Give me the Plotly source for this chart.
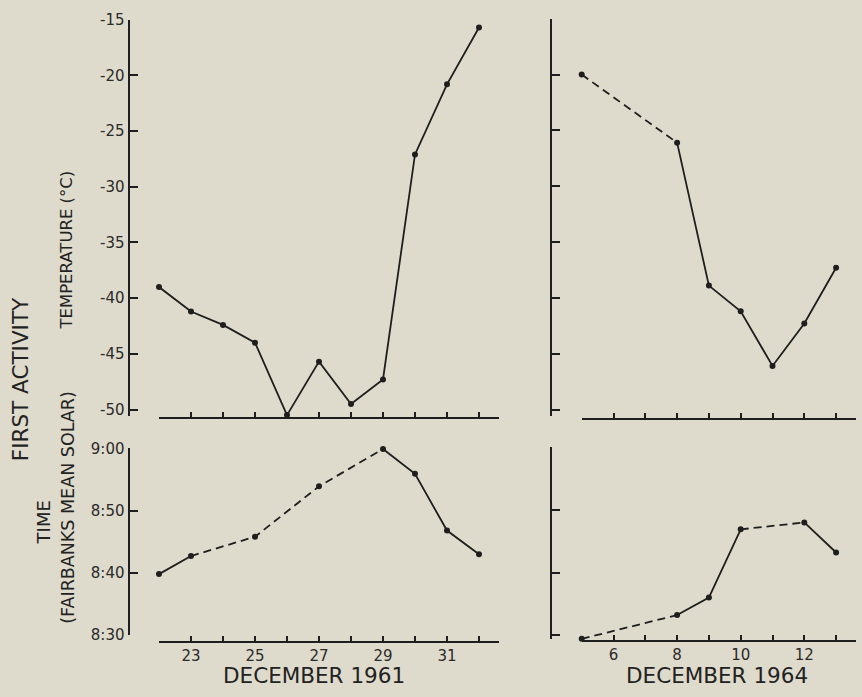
import plotly.graph_objects as go

# ---------------- data ----------------
# December 1961
days_1961_temp = [22, 23, 24, 25, 26, 27, 28, 29, 30, 31, 32]
temp_1961 = [-39.0, -41.2, -42.4, -44.0, -50.5, -45.7, -49.5, -47.3, -27.1, -20.8, -15.7]
temp_1961_style = ["solid"] * 10  # style of segment i -> i+1

days_1961_time = [22, 23, 25, 27, 29, 30, 31, 32]
time_1961 = [39.8, 42.7, 45.8, 53.9, 59.9, 55.9, 46.8, 43.0]  # minutes after 8:00
time_1961_style = ["solid", "dash", "dash", "dash", "solid", "solid", "solid"]

# December 1964
days_1964_temp = [5, 8, 9, 10, 11, 12, 13]
temp_1964 = [-20.0, -26.1, -38.9, -41.2, -46.1, -42.3, -37.3]
temp_1964_style = ["dash", "solid", "solid", "solid", "solid", "solid"]

days_1964_time = [5, 8, 9, 10, 12, 13]
time_1964 = [29.4, 33.2, 36.0, 46.9, 48.0, 43.2]
time_1964_style = ["dash", "solid", "solid", "dash", "solid"]

# ticks
temp_tickvals = [-50, -45, -40, -35, -30, -25, -20, -15]
temp_ticktext = ["-50", "-45", "-40", "-35", "-30", "-25", "-20", "-15"]
time_tickvals = [30, 40, 50, 60]
time_ticktext = ["8:30", "8:40", "8:50", "9:00"]
x1961_tickvals = list(range(22, 33))
x1961_ticktext = ["", "23", "", "25", "", "27", "", "29", "", "31", ""]
x1964_tickvals = list(range(5, 14))
x1964_ticktext = ["", "6", "", "8", "", "10", "", "12", ""]

# ---------------- style ----------------
W, H = 862, 697
BG = "#dfdbcc"
INK = "#1e1e1e"
FONT = "DejaVu Sans"


def px(x):
    return x / W


def py(y):
    return 1 - y / H


fig = go.Figure()


def add_series(xs, ys, styles, xa, ya):
    # group consecutive segments of equal style into one trace
    i = 0
    n = len(styles)
    while i < n:
        j = i
        while j + 1 < n and styles[j + 1] == styles[i]:
            j += 1
        seg_x = xs[i:j + 2]
        seg_y = ys[i:j + 2]
        fig.add_trace(go.Scatter(
            x=seg_x, y=seg_y, mode="lines", xaxis=xa, yaxis=ya,
            line=dict(color=INK, width=1.8,
                      dash="solid" if styles[i] == "solid" else "8px,5px"),
            hoverinfo="skip", showlegend=False))
        i = j + 1
    fig.add_trace(go.Scatter(
        x=xs, y=ys, mode="markers", xaxis=xa, yaxis=ya, cliponaxis=False,
        marker=dict(color=INK, size=6), showlegend=False))


add_series(days_1961_temp, temp_1961, temp_1961_style, "x", "y")
add_series(days_1964_temp, temp_1964, temp_1964_style, "x2", "y2")
add_series(days_1961_time, time_1961, time_1961_style, "x3", "y3")
add_series(days_1964_time, time_1964, time_1964_style, "x4", "y4")

tickfont = dict(family=FONT, size=15, color="#2a2a2a")
common_ax = dict(showline=True, linecolor=INK, linewidth=2, ticks="inside",
                 tickcolor=INK, tickwidth=1.5, showgrid=False, zeroline=False,
                 tickfont=tickfont, fixedrange=True)

fig.update_layout(
    width=W, height=H, autosize=False,
    margin=dict(l=0, r=0, t=0, b=0),
    paper_bgcolor=BG, plot_bgcolor=BG,
    showlegend=False,
    xaxis=dict(common_ax, domain=[px(159), px(499)], range=[22, 32.625],
               anchor="free", position=py(420), tickvals=x1961_tickvals,
               showticklabels=False, ticklen=5),
    yaxis=dict(common_ax, domain=[py(418), py(11)], range=[-50.6, -15],
               anchor="free", position=px(128.5), tickvals=temp_tickvals,
               ticktext=temp_ticktext, ticklen=8),
    xaxis2=dict(common_ax, domain=[px(581.7), px(856)], range=[5, 13.626],
                anchor="free", position=py(420.7), tickvals=x1964_tickvals,
                showticklabels=False, ticklen=5),
    yaxis2=dict(common_ax, domain=[py(418), py(10)], range=[-50.6, -15],
                anchor="free", position=px(550.7), tickvals=temp_tickvals,
                showticklabels=False, ticklen=8),
    xaxis3=dict(common_ax, domain=[px(159), px(499)], range=[22, 32.625],
                anchor="free", position=py(649.3), tickvals=x1961_tickvals,
                ticktext=x1961_ticktext, ticklen=5),
    yaxis3=dict(common_ax, domain=[py(642.7), py(451)], range=[30, 60],
                anchor="free", position=px(128.5), tickvals=time_tickvals,
                ticktext=time_ticktext, ticklen=8),
    xaxis4=dict(common_ax, domain=[px(581.7), px(856)], range=[5, 13.626],
                anchor="free", position=py(648.3), tickvals=x1964_tickvals,
                ticktext=x1964_ticktext, ticklen=5),
    yaxis4=dict(common_ax, domain=[py(647.2), py(450)], range=[29.3, 60],
                anchor="free", position=px(550.7), tickvals=time_tickvals,
                showticklabels=False, ticklen=8),
)


def label(text, x, y, size, angle=0):
    fig.add_annotation(text=text, x=px(x), y=py(y), xref="paper", yref="paper",
                       showarrow=False, textangle=angle, xanchor="center",
                       yanchor="middle",
                       font=dict(family=FONT, size=size, color="#222222"))


label("DECEMBER 1961", 314, 684, 21.5)
label("DECEMBER 1964", 717, 684, 21.5)
label("FIRST ACTIVITY", 20, 380, 21.5, -90)
label("TEMPERATURE (°C)", 67, 248, 16.5, -90)
label("TIME", 43, 527, 18, -90)
label("(FAIRBANKS MEAN SOLAR)", 68, 512, 17.5, -90)

fig.write_html(
    "out.html",
    config={"responsive": False, "displayModeBar": False},
    post_script="document.body.style.margin='0';document.body.style.overflow='hidden';",
)
